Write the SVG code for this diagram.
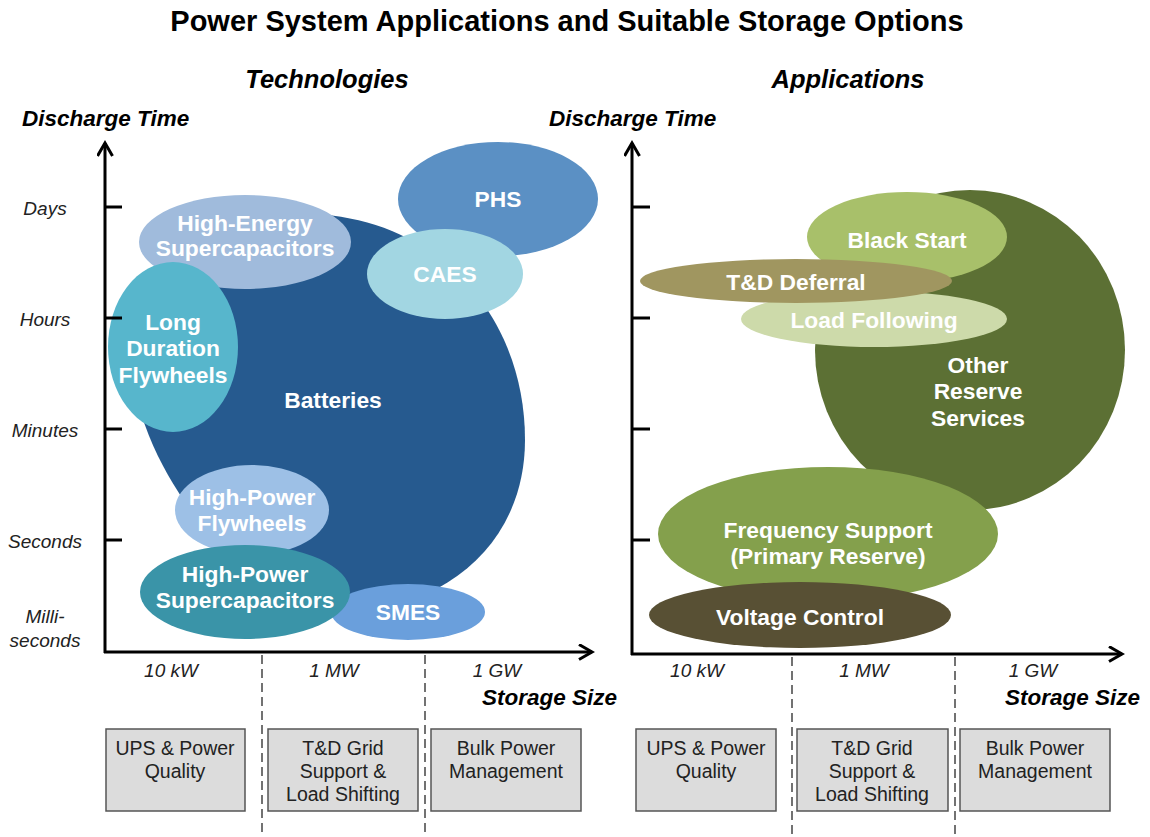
<svg xmlns="http://www.w3.org/2000/svg" width="1150" height="837" viewBox="0 0 1150 837">
<defs>
<marker id="arr" markerWidth="20" markerHeight="20" refX="14" refY="8" orient="auto" markerUnits="userSpaceOnUse">
<path d="M1 0.5 L14 8 L1 15.5" fill="none" stroke="#000" stroke-width="3" stroke-linejoin="miter"/>
</marker>
</defs>
<style>
.t{font-family:"Liberation Sans",Arial,sans-serif;}
.title{font-size:29px;font-weight:bold;fill:#000;text-anchor:middle;}
.head{font-size:25.5px;font-weight:bold;font-style:italic;fill:#000;text-anchor:middle;}
.axt{font-size:22.5px;font-weight:bold;font-style:italic;fill:#000;}
.lab{font-size:19px;font-style:italic;fill:#222;text-anchor:middle;}
.node{font-size:22.8px;font-weight:bold;fill:#fff;text-anchor:middle;}
.box{fill:#dcdcdc;stroke:#555;stroke-width:1.5;}
.btxt{font-size:19.5px;fill:#222;text-anchor:middle;}
.axis{stroke:#000;stroke-width:3;fill:none;}
.dash{stroke:#444;stroke-width:1.5;stroke-dasharray:9 5;}
</style>
<rect width="1150" height="837" fill="#fff"/>
<g class="t">
<text class="title" x="567" y="31">Power System Applications and Suitable Storage Options</text>
<text class="head" x="327" y="88">Technologies</text>
<text class="head" x="848" y="88">Applications</text>
<text class="axt" x="22" y="126">Discharge Time</text>
<text class="axt" x="549" y="126">Discharge Time</text>
<text class="axt" x="617" y="705" text-anchor="end">Storage Size</text>
<text class="axt" x="1140" y="705" text-anchor="end">Storage Size</text>
<text class="lab" x="45" y="215">Days</text>
<text class="lab" x="45" y="326">Hours</text>
<text class="lab" x="45" y="437">Minutes</text>
<text class="lab" x="45" y="548">Seconds</text>
<text class="lab" x="45" y="623">Milli-</text>
<text class="lab" x="45" y="647">seconds</text>
<text class="lab" x="171" y="677">10 kW</text>
<text class="lab" x="334" y="677">1 MW</text>
<text class="lab" x="497" y="677">1 GW</text>
<text class="lab" x="697" y="677">10 kW</text>
<text class="lab" x="864" y="677">1 MW</text>
<text class="lab" x="1033" y="677">1 GW</text>
</g>
<g id="connectors">
<line class="dash" x1="262" y1="655" x2="262" y2="837"/>
<line class="dash" x1="425" y1="655" x2="425" y2="837"/>
<line class="dash" x1="792" y1="657" x2="792" y2="837"/>
<line class="dash" x1="955" y1="657" x2="955" y2="837"/>
</g>
<g id="tech-nodes" class="t">
<g id="batteries"><path d="M300 214 C430 212 525 310 525 440 C525 540 450 606 350 612 C280 615 230 562 192 512 C160 468 130 410 130 340 C130 270 200 216 300 214 Z" fill="#265a8f"/><text class="node" x="333" y="408">Batteries</text></g>
<g id="phs"><ellipse cx="498" cy="199" rx="100" ry="57" fill="#5b90c4"/><text class="node" x="498" y="207">PHS</text></g>
<g id="caes"><ellipse cx="445" cy="274" rx="78" ry="45" fill="#a2d6e2"/><text class="node" x="445" y="282">CAES</text></g>
<g id="he-supercap"><ellipse cx="245" cy="242" rx="106" ry="47" fill="#a0bbdc"/><text class="node" x="245" y="231">High-Energy</text><text class="node" x="245" y="256">Supercapacitors</text></g>
<g id="ld-flywheels"><ellipse cx="173" cy="347" rx="65" ry="85" fill="#57b6cc"/><text class="node" x="173" y="330">Long</text><text class="node" x="173" y="356">Duration</text><text class="node" x="173" y="383">Flywheels</text></g>
<g id="hp-flywheels"><ellipse cx="252" cy="510" rx="77" ry="45" fill="#9dc0e6"/><text class="node" x="252" y="505">High-Power</text><text class="node" x="252" y="531">Flywheels</text></g>
<g id="smes"><ellipse cx="408" cy="612" rx="77" ry="28" fill="#6a9fdc"/><text class="node" x="408" y="620">SMES</text></g>
<g id="hp-supercap"><ellipse cx="245" cy="592" rx="105" ry="47" fill="#3a94a8"/><text class="node" x="245" y="582">High-Power</text><text class="node" x="245" y="608">Supercapacitors</text></g>
</g>
<g id="app-nodes" class="t">
<g id="other-reserve"><ellipse cx="970" cy="350" rx="155" ry="160" fill="#5c7034"/><text class="node" x="978" y="373">Other</text><text class="node" x="978" y="399">Reserve</text><text class="node" x="978" y="426">Services</text></g>
<g id="black-start"><ellipse cx="907" cy="237" rx="100" ry="45" fill="#a8c06a"/><text class="node" x="907" y="248">Black Start</text></g>
<g id="load-following"><ellipse cx="874" cy="319" rx="133" ry="28" fill="#cddaaa"/><text class="node" x="874" y="328">Load Following</text></g>
<g id="td-deferral"><ellipse cx="796" cy="281" rx="156" ry="22" fill="#a09660"/><text class="node" x="796" y="290">T&amp;D Deferral</text></g>
<g id="freq-support"><ellipse cx="828" cy="534" rx="170" ry="67" fill="#84a04c"/><text class="node" x="828" y="538">Frequency Support</text><text class="node" x="828" y="564">(Primary Reserve)</text></g>
<g id="voltage-control"><ellipse cx="800" cy="615" rx="151" ry="33" fill="#585034"/><text class="node" x="800" y="625">Voltage Control</text></g>
</g>
<g id="axes">
<line class="axis" x1="105" y1="653" x2="105" y2="143" marker-end="url(#arr)"/>
<line class="axis" x1="104" y1="652" x2="592" y2="652" marker-end="url(#arr)"/>
<line class="axis" x1="105" y1="207" x2="122" y2="207"/>
<line class="axis" x1="105" y1="318" x2="122" y2="318"/>
<line class="axis" x1="105" y1="429" x2="122" y2="429"/>
<line class="axis" x1="105" y1="540" x2="122" y2="540"/>
<line class="axis" x1="632" y1="655" x2="632" y2="143" marker-end="url(#arr)"/>
<line class="axis" x1="631" y1="654" x2="1122" y2="654" marker-end="url(#arr)"/>
<line class="axis" x1="632" y1="207" x2="650" y2="207"/>
<line class="axis" x1="632" y1="318" x2="650" y2="318"/>
<line class="axis" x1="632" y1="429" x2="650" y2="429"/>
<line class="axis" x1="632" y1="540" x2="650" y2="540"/>
</g>
<g id="boxes" class="t">
<g id="box-ups-l"><rect class="box" x="106" y="729" width="139" height="82"/><text class="btxt" x="175" y="755">UPS &amp; Power</text><text class="btxt" x="175" y="778">Quality</text></g>
<g id="box-td-l"><rect class="box" x="268" y="729" width="150" height="82"/><text class="btxt" x="343" y="755">T&amp;D Grid</text><text class="btxt" x="343" y="778">Support &amp;</text><text class="btxt" x="343" y="801">Load Shifting</text></g>
<g id="box-bulk-l"><rect class="box" x="431" y="729" width="150" height="82"/><text class="btxt" x="506" y="755">Bulk Power</text><text class="btxt" x="506" y="778">Management</text></g>
<g id="box-ups-r"><rect class="box" x="636" y="729" width="140" height="82"/><text class="btxt" x="706" y="755">UPS &amp; Power</text><text class="btxt" x="706" y="778">Quality</text></g>
<g id="box-td-r"><rect class="box" x="797" y="729" width="151" height="82"/><text class="btxt" x="872" y="755">T&amp;D Grid</text><text class="btxt" x="872" y="778">Support &amp;</text><text class="btxt" x="872" y="801">Load Shifting</text></g>
<g id="box-bulk-r"><rect class="box" x="960" y="729" width="150" height="82"/><text class="btxt" x="1035" y="755">Bulk Power</text><text class="btxt" x="1035" y="778">Management</text></g>
</g>
</svg>
